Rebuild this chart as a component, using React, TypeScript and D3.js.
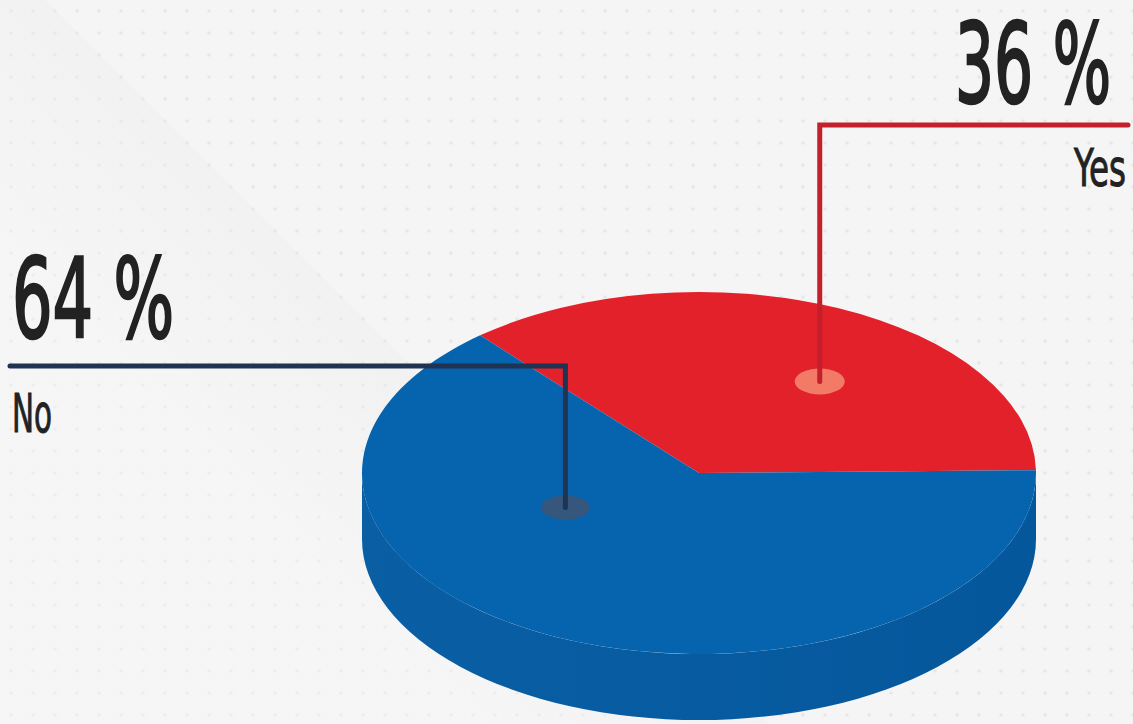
import React, { useLayoutEffect, useRef, useState } from "react";
import * as d3 from "d3";

const categories = ["Yes", "No"];
const values = [36, 64];
const percentLabels = ["36 %", "64 %"];

const W = 1133;
const H = 724;
const cx = 699;
const cy = 473;
const rx = 337;
const ry = 181;
const depth = 66;
const startDeg = -40.5;

const topColors: Record<string, string> = { Yes: "#e2212a", No: "#0663ae" };

type Lbl = { text: string; x: number; y: number; size: number; width: number; sw: number };

export default function App() {
  const pie = d3
    .pie<number>()
    .sort(null)
    .startAngle((startDeg * Math.PI) / 180)
    .endAngle((startDeg * Math.PI) / 180 + 2 * Math.PI);
  const arcs = pie(values);
  const arcGen = d3.arc<d3.PieArcDatum<number>>().innerRadius(0).outerRadius(rx);

  const pt = (a: number, f: number) => [cx + rx * f * Math.sin(a), cy - ry * f * Math.cos(a)];
  const mid = (d: d3.PieArcDatum<number>) => (d.startAngle + d.endAngle) / 2;
  const deg = Math.PI / 180;

  const yesArc = arcs[0];
  const noArc = arcs[1];
  const [yx, yy] = pt(mid(yesArc) + 11 * deg, 0.62);
  const [nx, ny] = pt(mid(noArc) + 40 * deg, 0.44);

  const sidePath = `M${cx - rx},${cy} L${cx - rx},${cy + depth} A${rx},${ry} 0 0 0 ${cx + rx},${cy + depth} L${cx + rx},${cy} A${rx},${ry} 0 0 1 ${cx - rx},${cy} Z`;

  const font = "'DejaVu Sans Condensed', 'Liberation Sans Narrow', 'Roboto', sans-serif";

  const labels: Lbl[] = [
    { text: percentLabels[0], x: 955, y: 102, size: 110, width: 156, sw: 2.5 },
    { text: categories[0], x: 1074, y: 186, size: 52, width: 52, sw: 1 },
    { text: percentLabels[1], x: 12, y: 337, size: 110, width: 162, sw: 2.5 },
    { text: categories[1], x: 12, y: 432, size: 54, width: 40, sw: 1 },
  ];

  const refs = useRef<(SVGTextElement | null)[]>([]);
  const [scales, setScales] = useState<number[]>(labels.map(() => 0.65));
  useLayoutEffect(() => {
    const s = labels.map((l, i) => {
      const el = refs.current[i];
      if (!el) return 0.65;
      const w = el.getComputedTextLength();
      return w > 0 ? l.width / w : 0.65;
    });
    setScales(s);
  }, []);

  return (
    <svg width={W} height={H} style={{ position: "absolute", left: 0, top: 0 }}>
      <defs>
        <pattern id="dots" width="22" height="22" patternUnits="userSpaceOnUse">
          <circle cx="11" cy="11" r="1.8" fill="#e3e3e3" />
        </pattern>
        <linearGradient id="diag" x1="240" y1="195" x2="100" y2="335" gradientUnits="userSpaceOnUse">
          <stop offset="0" stopColor="#ebebeb" stopOpacity="0.7" />
          <stop offset="1" stopColor="#f7f7f7" stopOpacity="0.8" />
        </linearGradient>
        <linearGradient id="side" x1={cx - rx} y1="0" x2={cx + rx} y2="0" gradientUnits="userSpaceOnUse">
          <stop offset="0" stopColor="#0a5ea4" />
          <stop offset="0.5" stopColor="#075ba0" />
          <stop offset="1" stopColor="#05579b" />
        </linearGradient>
      </defs>
      <rect width={W} height={H} fill="#f5f5f5" />
      <rect width={W} height={H} fill="url(#dots)" opacity={0.8} />
      <polygon points="45,0 790,745 0,745 0,0" fill="url(#diag)" opacity={0.5} />

      <path d={sidePath} fill="url(#side)" />
      <g transform={`translate(${cx},${cy}) scale(1,${ry / rx})`}>
        {arcs.map((d, i) => (
          <path key={categories[i]} d={arcGen(d) || ""} fill={topColors[categories[i]]} />
        ))}
      </g>

      <ellipse cx={yx} cy={yy} rx={25} ry={13} fill="#f47a68" />
      <path
        d={`M${yx},${yy} L${yx},125 L1128,125`}
        fill="none"
        stroke="#c4202b"
        strokeWidth={5}
        strokeLinecap="round"
      />
      <ellipse cx={nx} cy={ny} rx={24} ry={12} fill="#3d5477" opacity={0.9} />
      <path
        d={`M${nx},${ny} L${nx},366 L10,366`}
        fill="none"
        stroke="#1f3352"
        strokeWidth={5}
        strokeLinecap="round"
      />

      <g fill="#222222" stroke="#222222" fontFamily={font}>
        {labels.map((l, i) => (
          <text
            key={l.text}
            ref={(el) => {
              refs.current[i] = el;
            }}
            transform={`translate(${l.x},${l.y}) scale(${scales[i]},1)`}
            fontSize={l.size}
            strokeWidth={l.sw}
          >
            {l.text}
          </text>
        ))}
      </g>
    </svg>
  );
}
